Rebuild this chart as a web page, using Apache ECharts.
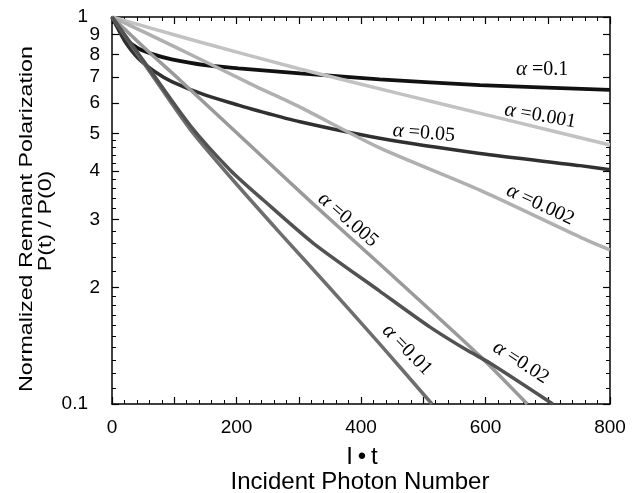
<!DOCTYPE html>
<html>
<head>
<meta charset="utf-8">
<script src="https://cdn.jsdelivr.net/npm/echarts@6/dist/echarts.min.js"></script>
<style>
html,body{margin:0;padding:0;background:#fff;}
#c{width:636px;height:493px;}
</style>
</head>
<body>
<div id="c"></div>
<script>
// ---------- data ----------
const xTickLabels = [0, 200, 400, 600, 800];
const yTickValues = [0.1, 0.2, 0.3, 0.4, 0.5, 0.6, 0.7, 0.8, 0.9, 1];
const yTickLabels = ['0.1', '2', '3', '4', '5', '6', '7', '8', '9', '1'];
const yMinorTicks = [0.11,0.12,0.13,0.14,0.15,0.16,0.17,0.18,0.19,
  0.22,0.24,0.26,0.28,0.32,0.34,0.36,0.38,0.42,0.44,0.46,0.48];

const seriesNames = ['α=0.1', 'α=0.001', 'α=0.05', 'α=0.002', 'α=0.005', 'α=0.01', 'α=0.02'];
const labelTexts = ['=0.1', '=0.001', '=0.05', '=0.002', '=0.005', '=0.01', '=0.02'];

const a01_x = [0, 8, 21, 42, 69, 96, 149, 203, 302, 430, 591, 800];
const a01_y = [1, 0.952, 0.881, 0.830, 0.798, 0.777, 0.751, 0.737, 0.715, 0.690, 0.667, 0.648];

const a0001_x = [0, 61, 141, 302, 463, 623, 800];
const a0001_y = [1, 0.937, 0.862, 0.734, 0.633, 0.548, 0.467];

const a005_x = [0, 8, 21, 42, 69, 96, 149, 203, 230, 302, 430, 591, 752, 800];
const a005_y = [1, 0.942, 0.863, 0.782, 0.722, 0.681, 0.629, 0.592, 0.575, 0.536, 0.486, 0.444, 0.413, 0.403];

const a0002_x = [0, 61, 141, 230, 302, 430, 591, 752, 800];
const a0002_y = [1, 0.899, 0.779, 0.663, 0.585, 0.459, 0.357, 0.270, 0.250];

const a0005_x = [0, 61, 109, 230, 323, 430, 511, 591, 667];
const a0005_y = [1, 0.807, 0.6875, 0.453, 0.329, 0.230, 0.175, 0.133, 0.1];

const a001_x = [0, 61, 125, 190, 270, 350, 430, 514];
const a001_y = [1, 0.721, 0.514, 0.386, 0.2765, 0.1994, 0.143, 0.1];

const a002_x = [0, 61, 125, 190, 243, 323, 430, 511, 570, 607, 708];
const a002_y = [1, 0.730, 0.526, 0.402, 0.3366, 0.2606, 0.1958, 0.158, 0.1378, 0.1276, 0.1];

// ---------- layout / style ----------
const seriesX = [a01_x, a0001_x, a005_x, a0002_x, a0005_x, a001_x, a002_x];
const seriesY = [a01_y, a0001_y, a005_y, a0002_y, a0005_y, a001_y, a002_y];
const colors = ['#111111', '#c2c2c2', '#303030', '#b0b0b0', '#9a9a9a', '#6e6e6e', '#525252'];
const widths = [3.8, 3.5, 3.5, 3.5, 3.5, 3.5, 3.5];
const labelAnchors = [[691, 0.730], [688, 0.555], [501, 0.501], [688, 0.327], [379, 0.299], [474, 0.138], [657, 0.128]];
const labelAngles = [0, -10, -5, -25, -41, -46, -33];

const chart = echarts.init(document.getElementById('c'), null, {renderer: 'canvas'});
const AX = '#000';
const sansFont = '"Liberation Sans", Arial, sans-serif';
const serifFont = '"Liberation Serif", "Times New Roman", serif';

function xAxisCfg(pos, showLabel) {
  return {
    type: 'value', position: pos, min: 0, max: 800, interval: 100,
    axisLine: {show: true, onZero: false, lineStyle: {color: AX, width: 1.5}},
    axisTick: {show: true, inside: true, length: 7, lineStyle: {color: AX, width: 1.2}},
    minorTick: {show: true, splitNumber: 5, length: 4, lineStyle: {color: AX, width: 1}},
    splitLine: {show: false},
    axisLabel: {show: showLabel, customValues: xTickLabels, margin: 14, color: '#000',
      fontFamily: sansFont, fontSize: 19}
  };
}
function yLabelFmt(v) {
  for (let i = 0; i < yTickValues.length; i++) {
    if (Math.abs(v - yTickValues[i]) < 1e-6) {
      const t = yTickLabels[i];
      return t.length > 1 || t === '1' ? '{w|' + t + '}' : '{n|' + t + '}';
    }
  }
  return '';
}
function yAxisCfg(pos, major, showLine, showLabel) {
  return {
    type: 'log', logBase: 10, position: pos, min: 0.1, max: 1,
    axisLine: {show: showLine, onZero: false, lineStyle: {color: AX, width: 1.5}},
    axisTick: {show: true, inside: true, length: major ? 7 : 4, customValues: major ? yTickValues : yMinorTicks,
      lineStyle: {color: AX, width: major ? 1.2 : 1}},
    minorTick: {show: false},
    splitLine: {show: false},
    axisLabel: {show: showLabel, customValues: yTickValues, margin: 12, formatter: yLabelFmt,
      rich: {
        n: {fontFamily: sansFont, fontSize: 19, color: '#000'},
        w: {fontFamily: sansFont, fontSize: 19, color: '#000', padding: [0, 12, 0, 0]}
      }}
  };
}

const series = seriesNames.map((name, i) => ({
  name: name, type: 'line', xAxisIndex: 0, yAxisIndex: 0,
  data: seriesX[i].map((x, j) => [x, seriesY[i][j]]),
  showSymbol: false, symbol: 'none', smooth: 0.25, clip: true,
  lineStyle: {color: colors[i], width: widths[i]},
  silent: true, animation: false
}));

chart.setOption({
  animation: false,
  grid: {left: 112, top: 17, width: 498, height: 387, containLabel: false, outerBoundsMode: 'none'},
  xAxis: [xAxisCfg('bottom', true), xAxisCfg('top', false)],
  yAxis: [yAxisCfg('left', true, true, true), yAxisCfg('left', false, false, false),
          yAxisCfg('right', true, true, false), yAxisCfg('right', false, false, false)],
  series: series
});

const graphics = [
  {type: 'text', x: 27, y: 219, rotation: Math.PI / 2, scaleX: 1.29,
   style: {text: 'Normalized Remnant Polarization', fontFamily: sansFont, fontSize: 18, fill: '#000', align: 'center', verticalAlign: 'middle'}},
  {type: 'text', x: 46, y: 221, rotation: Math.PI / 2, scaleX: 1.29,
   style: {text: 'P(t) / P(0)', fontFamily: sansFont, fontSize: 18, fill: '#000', align: 'center', verticalAlign: 'middle'}},
  {type: 'text', x: 362, y: 457,
   style: {text: 'I\u2009\u2022\u2009t', fontFamily: sansFont, fontSize: 24, fill: '#000', align: 'center', verticalAlign: 'middle'}},
  {type: 'text', x: 360, y: 482,
   style: {text: 'Incident Photon Number', fontFamily: sansFont, fontSize: 24, fill: '#000', align: 'center', verticalAlign: 'middle'}}
];
labelTexts.forEach((t, i) => {
  const p = chart.convertToPixel({xAxisIndex: 0, yAxisIndex: 0}, labelAnchors[i]);
  graphics.push({
    type: 'text', x: p[0], y: p[1], rotation: labelAngles[i] * Math.PI / 180,
    style: {text: '{a|α}{b| ' + t + '}', align: 'center', verticalAlign: 'middle',
      rich: {
        a: {fontFamily: serifFont, fontStyle: 'italic', fontSize: 21, fill: '#000'},
        b: {fontFamily: serifFont, fontSize: 20, fill: '#000'}
      }}
  });
});
chart.setOption({graphic: graphics});
</script>
</body>
</html>
